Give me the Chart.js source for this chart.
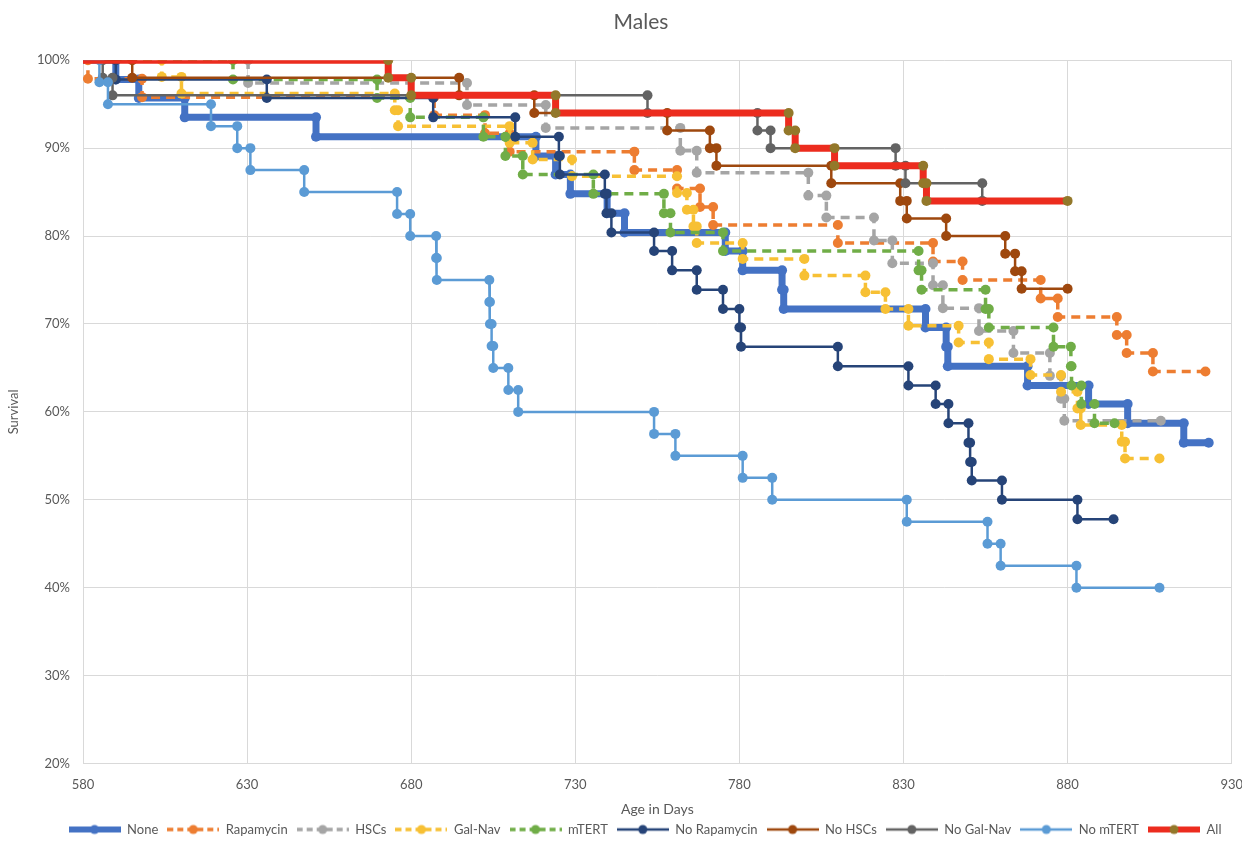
<!DOCTYPE html>
<html>
<head>
<meta charset="utf-8">
<script src="https://cdn.jsdelivr.net/npm/chart.js@4.4.1/dist/chart.umd.min.js"></script>
<style>
  html, body { margin: 0; padding: 0; background: #fff; overflow: hidden; }
</style>
</head>
<body>
<canvas id="chart" width="1256" height="852"></canvas>
<script>
// Kaplan-Meier style survival, males. Each series = days of deaths + survival (%) after that death.
const seriesNames = ['None', 'Rapamycin', 'HSCs', 'Gal-Nav', 'mTERT', 'No Rapamycin', 'No HSCs', 'No Gal-Nav', 'No mTERT', 'All'];
const startDay = 580;

const noneDays = [590, 597, 611, 651, 718, 724, 728.5, 739.7, 745, 775.7, 781, 793, 793.5, 836.7, 843, 843.5, 867.8, 886.4, 898.3, 915.4];
const noneSurv = [97.8, 95.7, 93.5, 91.3, 89.1, 87.0, 84.8, 82.6, 80.4, 78.3, 76.1, 73.9, 71.7, 69.6, 67.4, 65.2, 63.0, 60.9, 58.7, 56.5];

const rapaDays = [581.5, 598, 687, 702.5, 710, 748, 761, 768, 772, 810, 839, 848, 871.8, 877, 895, 898, 906];
const rapaSurv = [97.9, 95.8, 93.75, 91.7, 89.6, 87.5, 85.4, 83.3, 81.25, 79.2, 77.1, 75.0, 72.9, 70.8, 68.75, 66.7, 64.6];

const hscDays = [630.3, 697, 721, 762, 767, 801, 806.5, 821, 826.6, 839, 842, 853, 863.5, 874.6, 878, 879];
const hscSurv = [97.4, 94.9, 92.3, 89.7, 87.2, 84.6, 82.1, 79.5, 76.9, 74.4, 71.8, 69.2, 66.7, 64.1, 61.5, 59.0];

const galDays = [604, 610, 675, 676, 710, 717, 729, 761, 764, 766, 767, 781, 799.8, 818.4, 824.5, 831.5, 846.8, 856, 868.7, 878, 883, 884, 896.5, 897.5];
const galSurv = [98.1, 96.2, 94.3, 92.5, 90.6, 88.7, 86.8, 84.9, 83.0, 81.1, 79.2, 77.4, 75.5, 73.6, 71.7, 69.8, 67.9, 66.0, 64.2, 62.3, 60.4, 58.5, 56.6, 54.7];

const mtertDays = [625.7, 669.6, 679.7, 702, 708.7, 714, 735.5, 757, 759, 775, 834.6, 835.5, 855, 856, 875.7, 881, 881.2, 884.2, 888.2];
const mtertSurv = [97.8, 95.7, 93.5, 91.3, 89.1, 87.0, 84.8, 82.6, 80.4, 78.3, 76.1, 73.9, 71.7, 69.6, 67.4, 65.2, 63.0, 60.9, 58.7];

const noRapaDays = [590, 636, 686.7, 711.7, 725, 725.3, 739, 739.5, 741, 754, 759.5, 767, 775, 780, 780.5, 810, 831.5, 839.8, 843.7, 849.8, 850.3, 850.8, 860, 883];
const noRapaSurv = [97.8, 95.7, 93.5, 91.3, 89.1, 87.0, 84.8, 82.6, 80.4, 78.3, 76.1, 73.9, 71.7, 69.6, 67.4, 65.2, 63.0, 60.9, 58.7, 56.5, 54.3, 52.2, 50.0, 47.8];

const noHscDays = [595, 694.6, 717.5, 758, 771, 773, 808, 829, 831, 843, 861, 864, 866];
const noHscSurv = [98, 96, 94, 92, 90, 88, 86, 84, 82, 80, 78, 76, 74];

const noGalDays = [586, 589, 752, 785.5, 789.5, 827.6, 830.6, 854];
const noGalSurv = [98, 96, 94, 92, 90, 88, 86, 84];

const noMtertDays = [585, 587.6, 619, 627, 631, 647.4, 675.7, 679.7, 687.6, 687.8, 703.8, 704, 704.5, 705, 709.6, 712.6, 754, 760.5, 781, 790, 831, 855.6, 859.6, 882.7];
const noMtertSurv = [97.5, 95, 92.5, 90, 87.5, 85, 82.5, 80, 77.5, 75, 72.5, 70, 67.5, 65, 62.5, 60, 57.5, 55, 52.5, 50, 47.5, 45, 42.5, 40];

const allDays = [673, 680, 724, 795, 797, 809, 836, 837];
const allSurv = [98, 96, 94, 92, 90, 88, 86, 84];

// last follow-up day of each series (same order as seriesNames)
const lastDay = [923, 922, 908.4, 908, 894.3, 894, 880, 854, 908, 880];

const xTicks = [580, 630, 680, 730, 780, 830, 880, 930];
const yTicks = [20, 30, 40, 50, 60, 70, 80, 90, 100];

const eventDays = [noneDays, rapaDays, hscDays, galDays, mtertDays, noRapaDays, noHscDays, noGalDays, noMtertDays, allDays];
const eventSurv = [noneSurv, rapaSurv, hscSurv, galSurv, mtertSurv, noRapaSurv, noHscSurv, noGalSurv, noMtertSurv, allSurv];

// look of each line, Excel-ish palette
const styles = [
  { color: '#4472C4', dot: '#4472C4', width: 7, dash: [] },
  { color: '#ED7D31', dot: '#ED7D31', width: 3.5, dash: [9, 6] },
  { color: '#A5A5A5', dot: '#A5A5A5', width: 3.5, dash: [9, 6] },
  { color: '#F7C034', dot: '#F7C034', width: 3.5, dash: [9, 6] },
  { color: '#70AD47', dot: '#70AD47', width: 3.5, dash: [9, 6] },
  { color: '#264478', dot: '#264478', width: 2.5, dash: [] },
  { color: '#9E480E', dot: '#9E480E', width: 2.5, dash: [] },
  { color: '#636363', dot: '#636363', width: 2.5, dash: [] },
  { color: '#5B9BD5', dot: '#5B9BD5', width: 2.5, dash: [] },
  { color: '#EC2C1E', dot: '#93782A', width: 7, dash: [] },
];

function steps(days, surv, end) {
  const pts = [{ x: startDay, y: 100 }];
  let prev = 100;
  days.forEach((d, i) => {
    pts.push({ x: d, y: prev });
    pts.push({ x: d, y: surv[i] });
    prev = surv[i];
  });
  if (end > days[days.length - 1]) pts.push({ x: end, y: prev });
  return pts;
}

function legendIcon(s) {
  const c = document.createElement('canvas');
  c.width = 52;
  c.height = 14;
  const g = c.getContext('2d');
  g.strokeStyle = s.color;
  g.lineWidth = Math.min(s.width, 6);
  g.setLineDash(s.dash.length ? [6, 4] : []);
  g.beginPath();
  g.moveTo(0, 7);
  g.lineTo(52, 7);
  g.stroke();
  g.fillStyle = s.dot;
  g.beginPath();
  g.arc(26, 7, 4.5, 0, Math.PI * 2);
  g.fill();
  return c;
}

const icons = styles.map(legendIcon);

const datasets = seriesNames.map((name, i) => ({
  label: name,
  data: steps(eventDays[i], eventSurv[i], lastDay[i]),
  showLine: true,
  tension: 0,
  borderColor: styles[i].color,
  borderWidth: styles[i].width,
  borderDash: styles[i].dash,
  backgroundColor: styles[i].dot,
  pointBackgroundColor: styles[i].dot,
  pointBorderColor: styles[i].dot,
  pointBorderWidth: 0,
  pointRadius: (ctx) => (ctx.dataIndex === 0 ? 0 : 5),
  pointHoverRadius: 5,
  order: seriesNames.length - i, // later series drawn on top, like Excel
}));

// canvas is a little wider than the window (the 930 label gets cut like the original),
// so shift title and legend to where they sit in the reference
const nudge = {
  id: 'nudge',
  afterLayout(chart) {
    chart.titleBlock.left += 13;
    chart.titleBlock.right += 13;
    chart.legend.left += 17;
    chart.legend.right += 17;
  },
};

Chart.defaults.font.family = 'Lato, "Liberation Sans", Arial, sans-serif';
Chart.defaults.color = '#595959';

new Chart(document.getElementById('chart'), {
  type: 'scatter',
  data: { datasets },
  plugins: [nudge],
  options: {
    responsive: false,
    animation: false,
    layout: { padding: { left: 0, right: 0, top: 0, bottom: 6 } },
    scales: {
      x: {
        type: 'linear',
        min: 580,
        max: 930,
        afterBuildTicks: (scale) => { scale.ticks = xTicks.map((v) => ({ value: v })); },
        ticks: { padding: 13, font: { size: 13 }, color: '#595959' },
        grid: { color: '#D9D9D9', drawTicks: false },
        border: { color: '#D9D9D9' },
        title: { display: true, text: 'Age in Days', font: { size: 14 }, color: '#595959', padding: { top: -4, bottom: -4 } },
      },
      y: {
        min: 20,
        max: 100,
        afterBuildTicks: (scale) => { scale.ticks = yTicks.map((v) => ({ value: v })); },
        afterFit: (scale) => { scale.width = 83; },
        ticks: { padding: 13, font: { size: 13 }, color: '#595959', callback: (v) => v + '%' },
        grid: { color: '#D9D9D9', drawTicks: false },
        border: { color: '#D9D9D9' },
        title: { display: true, text: 'Survival', font: { size: 13 }, color: '#595959', padding: { top: 6, bottom: 4 } },
      },
    },
    plugins: {
      title: { display: true, text: 'Males', font: { size: 21, weight: 'normal' }, color: '#595959', padding: { top: 10, bottom: 25 } },
      legend: {
        position: 'bottom',
        labels: {
          usePointStyle: true,
          pointStyleWidth: 52,
          padding: 9,
          font: { size: 13 },
          color: '#595959',
          sort: (a, b) => a.datasetIndex - b.datasetIndex,
          generateLabels: (chart) => {
            const items = Chart.defaults.plugins.legend.labels.generateLabels(chart);
            items.forEach((it) => { it.pointStyle = icons[it.datasetIndex]; });
            return items;
          },
        },
      },
      tooltip: { enabled: false },
    },
  },
});
</script>
</body>
</html>
